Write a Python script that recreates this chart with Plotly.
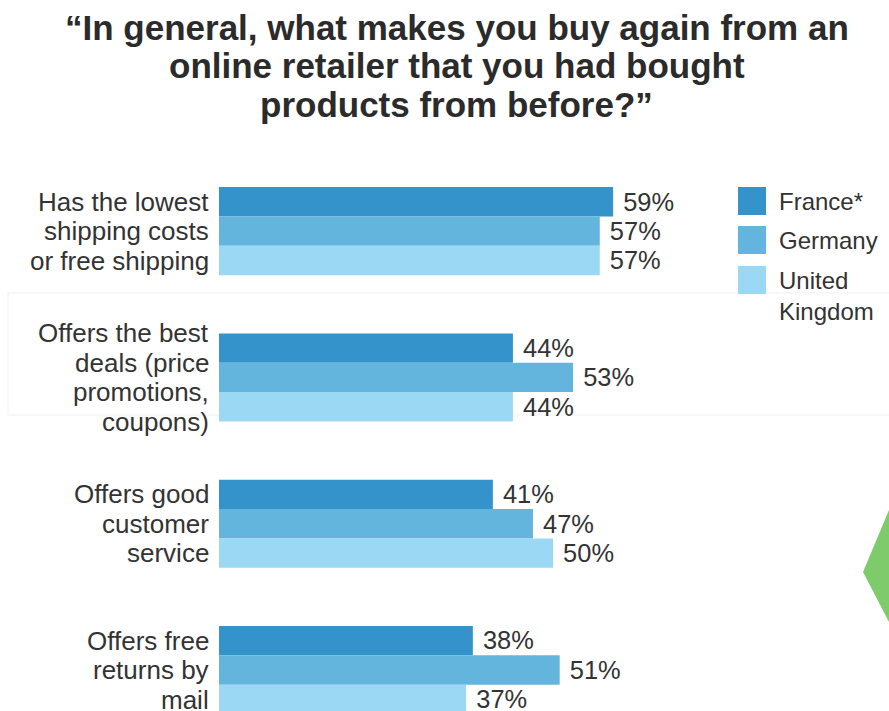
import plotly.graph_objects as go

# Survey answers (one category per reason), values in percent
categories = [
    "Has the lowest shipping costs or free shipping",
    "Offers the best deals (price promotions, coupons)",
    "Offers good customer service",
    "Offers free returns by mail",
]
category_lines = [
    ["Has the lowest", "shipping costs", "or free shipping"],
    ["Offers the best", "deals (price", "promotions,", "coupons)"],
    ["Offers good", "customer", "service"],
    ["Offers free", "returns by", "mail"],
]
france = [59, 44, 41, 38]
germany = [57, 53, 47, 51]
united_kingdom = [57, 44, 50, 37]

series_names = ["France*", "Germany", "United Kingdom"]
legend_labels = ["France*", "Germany", "United<br>Kingdom"]
colors = ["#3593cc", "#64b5de", "#9bd8f4"]

title_lines = [
    "“In general, what makes you buy again from an",
    "online retailer that you had bought",
    "products from before?”",
]

FONT = "Liberation Sans, Arial, sans-serif"
TEXT_COLOR = "#333333"
LINE_STEP = 29.5  # px between lines of a category label

# Plot area in pixels: x from 219 to 887, y from 158 to 711
L, T, W, H = 219, 158, 668, 553


def paper_x(px):
    return (px - L) / W


def paper_y(py):
    return 1 - (py - T) / H


fig = go.Figure()
for name, vals, col in zip(series_names, [france, germany, united_kingdom], colors):
    fig.add_trace(go.Bar(
        y=categories,
        x=vals,
        orientation="h",
        name=name,
        marker=dict(color=col, line=dict(width=0)),
        text=[f"\u00a0{v}%" for v in vals],
        textposition="outside",
        textfont=dict(family=FONT, size=26, color=TEXT_COLOR),
        cliponaxis=False,
        showlegend=False,
    ))

# Category labels, right-aligned next to the axis, one annotation per line
for cat, lines in zip(categories, category_lines):
    n = len(lines)
    for i, line in enumerate(lines):
        fig.add_annotation(text=line, xref="x", yref="y", x=0, y=cat,
                           xanchor="right", yanchor="middle", xshift=-8,
                           yshift=((n - 1) / 2 - i) * LINE_STEP,
                           showarrow=False,
                           font=dict(family=FONT, size=26, color=TEXT_COLOR))

# Title, one annotation per line
for yc, line in zip([28, 66, 104], title_lines):
    fig.add_annotation(text=f"<b>{line}</b>", xref="paper", yref="paper",
                       x=paper_x(889 / 2 + 12), y=paper_y(yc),
                       xanchor="center", yanchor="middle", showarrow=False,
                       font=dict(family=FONT, size=35, color="#2b2b2b"))

# Faint panel outline behind the second group
fig.add_shape(type="rect", xref="paper", yref="paper",
              x0=paper_x(8), x1=paper_x(895),
              y0=paper_y(293), y1=paper_y(415),
              line=dict(width=1, color="#f1f1f1"), fillcolor="rgba(0,0,0,0)",
              layer="below")

# Legend drawn as swatches with labels to the right of the bars
legend_top = [187, 226, 266]
for top, col, lab in zip(legend_top, colors, legend_labels):
    fig.add_shape(type="rect", xref="paper", yref="paper",
                  x0=paper_x(738), x1=paper_x(766),
                  y0=paper_y(top), y1=paper_y(top + 28),
                  line=dict(width=0), fillcolor=col, layer="above")
    fig.add_annotation(text=lab, xref="paper", yref="paper",
                       x=paper_x(777), y=paper_y(top - 1),
                       xanchor="left", yanchor="top", align="left",
                       showarrow=False,
                       font=dict(family=FONT, size=24, color=TEXT_COLOR))

# Green decorative wedge at the right edge
def pt(xp, yp):
    return f"{paper_x(xp):.4f},{paper_y(yp):.4f}"


fig.add_shape(type="path", xref="paper", yref="paper",
              path=f"M {pt(889, 510)} L {pt(863, 572)} L {pt(889, 622)} Z",
              fillcolor="#7dcb6a", line=dict(width=0), layer="above")

fig.update_layout(
    width=889, height=711,
    margin=dict(l=L, r=889 - L - W, t=T, b=0, autoexpand=False),
    paper_bgcolor="white", plot_bgcolor="white",
    barmode="group", bargap=0.398, bargroupgap=0,
    xaxis=dict(range=[0, 100], visible=False, fixedrange=True,
               automargin=False),
    yaxis=dict(
        type="category",
        range=[3.28, -0.5],
        showgrid=False, zeroline=False, showline=False,
        ticks="", showticklabels=False, automargin=False,
    ),
)

fig.write_html("out.html")
